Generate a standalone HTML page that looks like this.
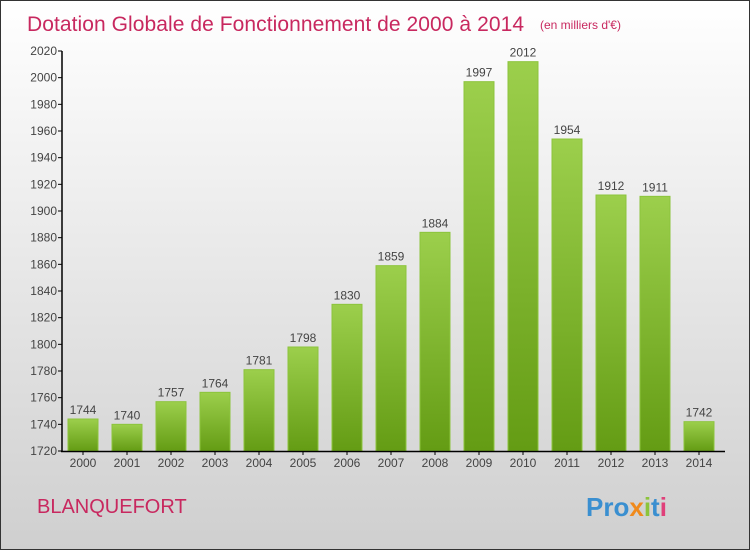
<!DOCTYPE html>
<html><head><meta charset="utf-8"><style>
body{margin:0}
#c{width:750px;height:550px;position:relative;box-sizing:border-box;border:1px solid #333;background:linear-gradient(#ffffff,#cfcfcf);font-family:"Liberation Sans",sans-serif;overflow:hidden}
</style></head><body>
<div id="c">
<svg width="748" height="548" style="position:absolute;left:0;top:0" id="svg">
<defs><linearGradient id="g" x1="0" y1="0" x2="0" y2="1"><stop offset="0" stop-color="#9ccf4c"/><stop offset="1" stop-color="#649c14"/></linearGradient></defs>
<text x="26" y="30" font-size="21" fill="#c8285f" textLength="497">Dotation Globale de Fonctionnement de 2000 à 2014</text>
<text x="539" y="28" font-size="12" fill="#c8285f">(en milliers d'€)</text>
<text x="36" y="512" font-size="20" fill="#c8285f">BLANQUEFORT</text>
<g font-size="26" font-weight="bold">
<text x="585" y="515"><tspan fill="#3a8fd0">Pro</tspan><tspan fill="#f08a1c">x</tspan><tspan fill="#8cc43c">i</tspan><tspan fill="#3a8fd0">t</tspan><tspan fill="#e0407a">i</tspan></text>
</g>
<g id="plot"></g>
</svg>
</div>
<script>
const years=["2000","2001","2002","2003","2004","2005","2006","2007","2008","2009","2010","2011","2012","2013","2014"];
const values=[1744,1740,1757,1764,1781,1798,1830,1859,1884,1997,2012,1954,1912,1911,1742];
const yTicks=[1720,1740,1760,1780,1800,1820,1840,1860,1880,1900,1920,1940,1960,1980,2000,2020];
const ns="http://www.w3.org/2000/svg";
const g=document.getElementById('plot');
const y=v=>450-(v-1720)*400/300;
const x=i=>82+i*44;
function el(t,a,txt){const e=document.createElementNS(ns,t);for(const k in a)e.setAttribute(k,a[k]);if(txt!=null)e.textContent=txt;g.appendChild(e);return e;}
yTicks.forEach(v=>{
 const l=el('line',{x1:57,x2:61,y1:y(v),y2:y(v),stroke:'#000'});
 
 
 const t=el('text',{x:56,y:y(v)+4,'text-anchor':'end','font-size':12,fill:'#444'},v);
 
 
});
years.forEach((yr,i)=>{
 const r=el('rect',{x:x(i)-15,y:y(values[i]),width:30,height:450-y(values[i]),fill:'url(#g)',stroke:'#8cc43c','stroke-width':1});
 
 
 const v=el('text',{x:x(i),y:y(values[i])-5,'text-anchor':'middle','font-size':12,fill:'#444'},values[i]);
 
 
 const tk=el('line',{x1:x(i),x2:x(i),y1:450,y2:454,stroke:'#000'});
 
 
 const t=el('text',{x:x(i),y:466,'text-anchor':'middle','font-size':12,fill:'#444'},yr);
 
 
});
const ya=el('line',{x1:61,x2:61,y1:50,y2:451,stroke:'#000','stroke-width':1.5});


const xa=el('line',{x1:60,x2:724,y1:450.5,y2:450.5,stroke:'#000','stroke-width':1.5});


</script>
</body></html>
